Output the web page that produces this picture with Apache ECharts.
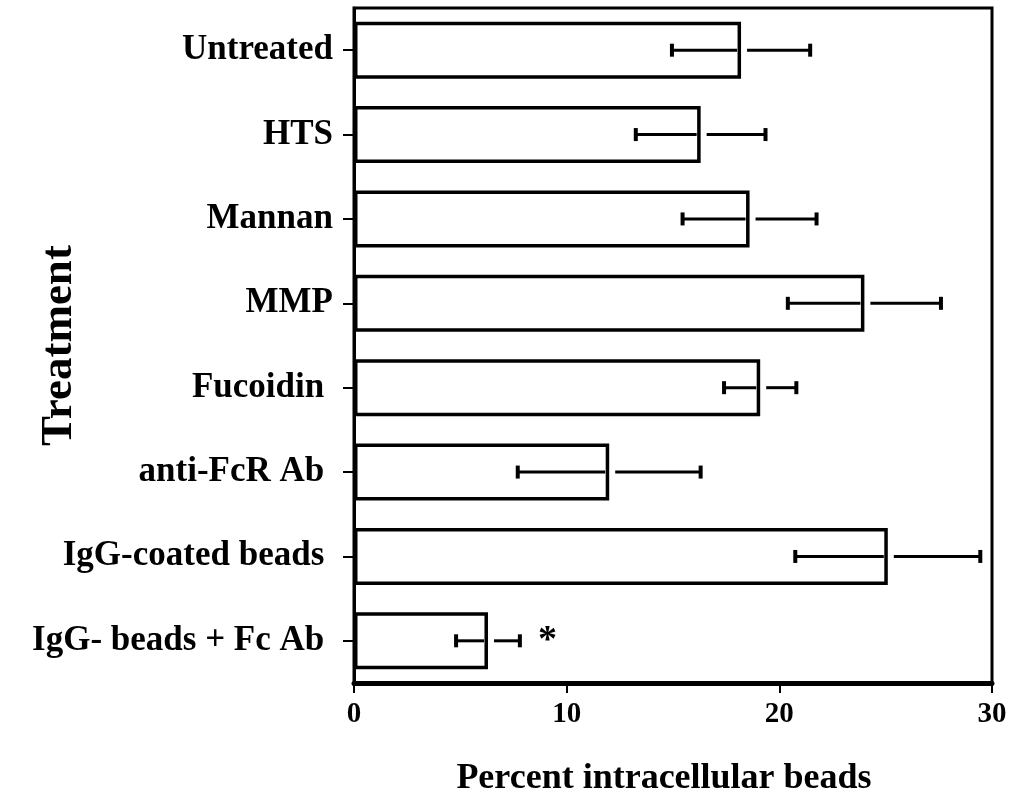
<!DOCTYPE html>
<html>
<head>
<meta charset="utf-8">
<script src="https://cdn.jsdelivr.net/npm/echarts@6/dist/echarts.min.js"></script>
<style>
html,body{margin:0;padding:0;background:#fff;}
#chart{width:1010px;height:796px;}
</style>
</head>
<body>
<div id="chart"></div>
<script>
const categories = ["Untreated", "HTS", "Mannan", "MMP", "Fucoidin ", "anti-FcR Ab ", "IgG-coated beads ", "IgG- beads + Fc Ab "];
const means = [18.2, 16.3, 18.6, 24.0, 19.1, 12.0, 25.1, 6.3];
const errors = [3.25, 3.05, 3.15, 3.6, 1.7, 4.3, 4.35, 1.5];
const xTicks = [0, 10, 20, 30];
const starMark = { x: 9.1, category: "IgG- beads + Fc Ab ", text: "*" };

const FONT = '"Liberation Serif", "DejaVu Serif", serif';

const errData = means.map((m, i) => [m - errors[i], m + errors[i], i, m]);

const chart = echarts.init(document.getElementById('chart'), null, { renderer: 'canvas' });

chart.setOption({
  animation: false,
  backgroundColor: '#fff',
  grid: {
    left: 354, right: 18, top: 8, bottom: 113,
    containLabel: false, outerBoundsMode: 'none',
    show: true, borderColor: '#000', borderWidth: 3, backgroundColor: 'transparent'
  },
  xAxis: {
    type: 'value',
    min: xTicks[0], max: xTicks[xTicks.length - 1], interval: 10,
    name: 'Percent intracellular beads',
    nameLocation: 'middle',
    nameGap: 78,
    nameMoveOverlap: false,
    nameTextStyle: { fontFamily: FONT, fontWeight: 'bold', fontSize: 36, color: '#000', padding: [0, 18, 0, 0] },
    axisLine: { show: true, lineStyle: { color: '#000', width: 5 } },
    axisTick: { show: true, length: 10, lineStyle: { color: '#000', width: 2 } },
    axisLabel: { fontFamily: FONT, fontWeight: 'bold', fontSize: 29, color: '#000', margin: 17 },
    splitLine: { show: false }
  },
  yAxis: {
    type: 'category',
    data: categories,
    inverse: true,
    name: 'Treatment',
    nameLocation: 'middle',
    nameGap: 272,
    nameRotate: 90,
    nameMoveOverlap: false,
    nameTextStyle: { fontFamily: FONT, fontWeight: 'bold', fontSize: 45, color: '#000' },
    axisLine: { show: true, lineStyle: { color: '#000', width: 3 } },
    axisTick: { show: true, length: 11, alignWithLabel: true, lineStyle: { color: '#000', width: 2 } },
    axisLabel: { fontFamily: FONT, fontWeight: 'bold', fontSize: 35, color: '#000', margin: 21 },
    splitLine: { show: false }
  },
  series: [
    {
      type: 'bar',
      data: means,
      barWidth: 57,
      itemStyle: { color: '#fff', borderColor: '#000', borderWidth: 3.5 },
      z: 2
    },
    {
      type: 'custom',
      data: errData,
      encode: { x: [0, 1], y: 2 },
      z: 3,
      renderItem: function (params, api) {
        const cat = api.value(2);
        const lo = api.coord([api.value(0), cat]);
        const hi = api.coord([api.value(1), cat]);
        const mid = api.coord([api.value(3), cat]);
        const cap = 6.5, gapL = 4, gapR = 6;
        const st = { stroke: '#000', lineWidth: 3 };
        return {
          type: 'group',
          children: [
            { type: 'line', shape: { x1: lo[0], y1: lo[1], x2: mid[0] - gapL, y2: mid[1] }, style: st },
            { type: 'line', shape: { x1: mid[0] + gapR, y1: mid[1], x2: hi[0], y2: hi[1] }, style: st },
            { type: 'line', shape: { x1: lo[0], y1: lo[1] - cap, x2: lo[0], y2: lo[1] + cap }, style: { stroke: '#000', lineWidth: 4 } },
            { type: 'line', shape: { x1: hi[0], y1: hi[1] - cap, x2: hi[0], y2: hi[1] + cap }, style: { stroke: '#000', lineWidth: 4 } }
          ]
        };
      }
    },
    {
      type: 'scatter',
      data: [[starMark.x, starMark.category]],
      symbolSize: 0,
      z: 4,
      itemStyle: { opacity: 1 },
      label: {
        show: true, position: 'inside', formatter: starMark.text,
        fontFamily: FONT, fontWeight: 'bold', fontSize: 38, color: '#000', opacity: 1
      }
    }
  ]
});
</script>
</body>
</html>
